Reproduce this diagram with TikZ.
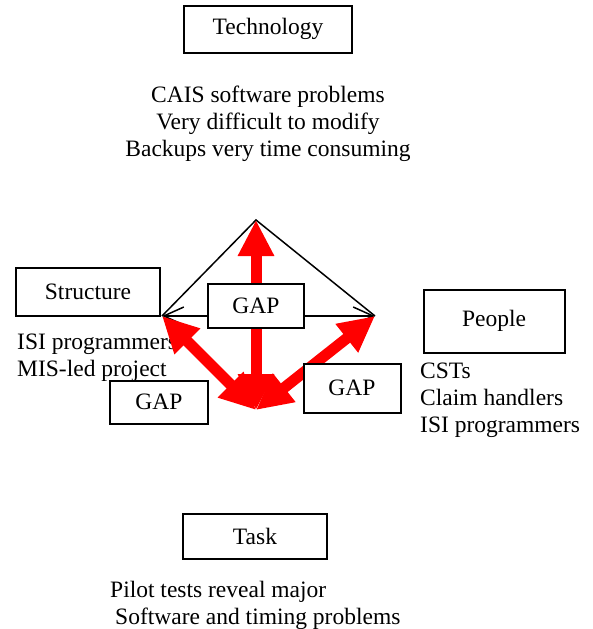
\documentclass[tikz,border=0pt]{standalone}
\usepackage{fontspec}
\setmainfont{Liberation Serif}
\usetikzlibrary{arrows.meta}
\tikzset{>={Straight Barb[width=18pt,length=20pt]}}

\begin{document}
\begin{tikzpicture}[x=1pt,y=-1pt,font=\fontsize{23.5}{27}\selectfont]
  \tikzstyle{dbox} = [draw, line width=2pt, inner sep=0pt, align=center]
  \tikzstyle{gapbox} = [dbox, fill=white, minimum width=96pt, minimum height=44pt]
  \tikzstyle{note} = [inner sep=0pt, align=left, anchor=north west]
  \tikzstyle{gaparrow} = [red, line width=11pt, {Triangle[width=34pt,length=36pt]}-{Triangle[width=34pt,length=36pt]}]

  \useasboundingbox (0,0) rectangle (592,629);

  % the four corners
  \node[dbox, minimum width=168pt, minimum height=47pt] (tech) at (268,29) {Technology};
  \node[inner sep=0pt, align=center, anchor=north] (techtxt) at (268,86) {CAIS software problems\\Very difficult to modify\\Backups very time consuming};
  \node[dbox, minimum width=144pt, minimum height=48pt] (struct) at (88,292) {Structure};
  \node[note] (structtxt) at (17,334) {ISI programmers\\MIS-led project};
  \node[dbox, minimum width=141pt, minimum height=63pt] (people) at (494,321) {People};
  \node[note] (peopletxt) at (420,363) {CSTs\\Claim handlers\\ISI programmers};
  \node[dbox, minimum width=144pt, minimum height=45pt] (task) at (255,536) {Task};
  \node[note] (tasktxt) at (110,581) {Pilot tests reveal major\\\hspace{5pt}Software and timing problems};

  % triangle
  \coordinate (apexT) at (256,220);
  \coordinate (apexL) at (162,316);
  \coordinate (apexR) at (375,316);
  \coordinate (bot) at (256,410);

  \draw[line width=1.5pt] (apexL) -- (apexT) -- (apexR);
  \draw[line width=1.5pt, <->] (apexL) -- (apexR);

  % gaps
  \draw[gaparrow] (bot) -- (apexT);
  \draw[gaparrow] (bot) -- (apexL);
  \draw[gaparrow] (bot) -- (apexR);

  \node[gapbox] (gapC) at (256,306) {GAP};
  \node[gapbox, minimum width=98pt, minimum height=43pt] (gapL) at (159,402) {GAP};
  \node[gapbox, minimum width=97pt, minimum height=49pt] (gapR) at (352,388) {GAP};
\end{tikzpicture}
\end{document}
